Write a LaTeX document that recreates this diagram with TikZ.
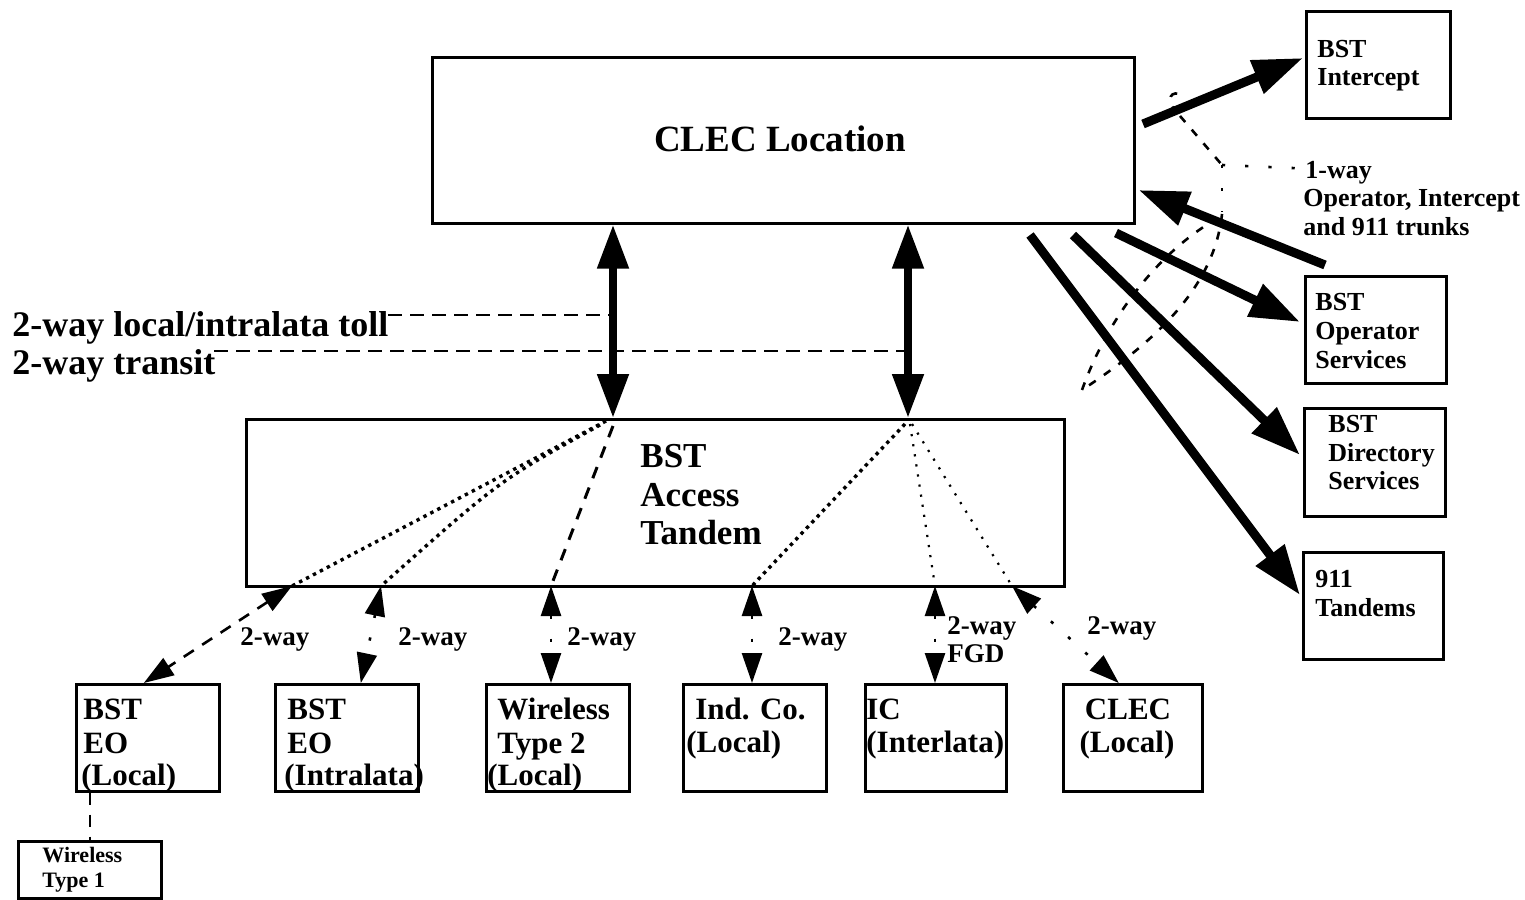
\documentclass[tikz,border=0pt]{standalone}
\usepackage{fontspec}
\setmainfont{Liberation Serif}
\usetikzlibrary{arrows.meta,calc}
\tikzset{
  box/.style={draw, line width=1.3pt, inner sep=0pt, anchor=north west},
  lbl/.style={inner sep=0pt, anchor=base west},
  fclec/.style={font=\fontsize{18.5}{20}\selectfont\bfseries},
  ftan/.style={font=\fontsize{17.5}{20}\selectfont\bfseries},
  fleft/.style={font=\fontsize{18}{20}\selectfont\bfseries},
  fbot/.style={font=\fontsize{15.5}{17}\selectfont\bfseries},
  fright/.style={font=\fontsize{13}{15}\selectfont\bfseries},
  fway/.style={font=\fontsize{13.5}{15}\selectfont\bfseries},
  fsmall/.style={font=\fontsize{11}{12}\selectfont\bfseries},
  dbl/.style={line width=4pt, {Triangle[length=22pt,width=15pt]}-{Triangle[length=22pt,width=15pt]}},
  trunk/.style={line width=4.5pt, -{Triangle[length=25pt,width=17pt]}},
  link/.style={line width=1.3pt, {Triangle[length=15pt,width=10pt]}-{Triangle[length=15pt,width=10pt]}},
  sparse/.style={dash pattern=on 1.6pt off 10pt},
  sdash/.style={dash pattern=on 6pt off 5pt},
  densedot/.style={line width=1.7pt, dash pattern=on 1.7pt off 2.2pt},
  finedot/.style={line width=1.1pt, dash pattern=on 1.1pt off 4pt},
  guide/.style={line width=1.1pt, dash pattern=on 7pt off 4pt},
  lasso/.style={line width=1.3pt, dash pattern=on 4pt off 5pt},
}
\begin{document}
\begin{tikzpicture}[x=0.5pt,y=-0.5pt]
\useasboundingbox (0,0) rectangle (1525,899);

% ---- boxes
\node[box, minimum width=351pt, minimum height=83pt]   (clec)      at (431,56) {};
\node[box, minimum width=409pt, minimum height=83.5pt] (tandem)    at (245,418) {};
\node[box, minimum width=72pt,  minimum height=53.5pt] (intercept) at (1305,10) {};
\node[box, minimum width=70.5pt,minimum height=53.5pt] (opsvc)     at (1304,275) {};
\node[box, minimum width=70.5pt,minimum height=54pt]   (dirsvc)    at (1303,407) {};
\node[box, minimum width=70pt,  minimum height=53.5pt] (tan911)    at (1302,551) {};
\node[box, minimum width=71.5pt,minimum height=53.5pt] (eo1)       at (75,683) {};
\node[box, minimum width=71.5pt,minimum height=53.5pt] (eo2)       at (274,683) {};
\node[box, minimum width=71.5pt,minimum height=53.5pt] (wt2)       at (485,683) {};
\node[box, minimum width=71.5pt,minimum height=53.5pt] (ind)       at (682,683) {};
\node[box, minimum width=70.5pt,minimum height=53.5pt] (ic)        at (864,683) {};
\node[box, minimum width=69.5pt,minimum height=53.5pt] (clecl)     at (1062,683) {};
\node[box, minimum width=71.5pt,minimum height=28.5pt] (wt1)       at (17,840) {};

% ---- texts
\node[fclec, inner sep=0pt, anchor=base] (tclec) at (780,151) {CLEC Location};
\node[ftan, lbl] (tt1) at (640,467) {BST};
\node[ftan, lbl] (tt2) at (640,506) {Access};
\node[ftan, lbl] (tt3) at (640,544) {Tandem};
\node[fleft, lbl] (left1) at (12,336) {2-way local/intralata toll};
\node[fleft, lbl] (left2) at (12,374) {2-way transit};

\node[fright, lbl] (ti1) at (1317,58) {BST};
\node[fright, lbl] (ti2) at (1317,86) {Intercept};
\node[fright, lbl] (to1) at (1315,310) {BST};
\node[fright, lbl] (to2) at (1315,339) {Operator};
\node[fright, lbl] (to3) at (1315,368) {Services};
\node[fright, lbl] (td1) at (1328,432) {BST};
\node[fright, lbl] (td2) at (1328,461) {Directory};
\node[fright, lbl] (td3) at (1328,489) {Services};
\node[fright, lbl] (tn1) at (1315,587) {911};
\node[fright, lbl] (tn2) at (1315,616) {Tandems};
\node[fright, lbl] (w1) at (1305,178) {1-way};
\node[fright, lbl] (w2) at (1303,206) {Operator, Intercept};
\node[fright, lbl] (w3) at (1303,235) {and 911 trunks};

\node[fbot, lbl] (e1a) at (83,719) {BST};
\node[fbot, lbl] (e1b) at (83,753) {EO};
\node[fbot, lbl] (e1c) at (81,785) {(Local)};
\node[fbot, lbl] (e2a) at (287,719) {BST};
\node[fbot, lbl] (e2b) at (287,753) {EO};
\node[fbot, lbl] (e2c) at (284,785) {(Intralata)};
\node[fbot, lbl] (w2a) at (497,719) {Wireless};
\node[fbot, lbl] (w2b) at (497,753) {Type 2};
\node[fbot, lbl] (w2c) at (487,785) {(Local)};
\node[fbot, lbl] (ia) at (695,719) {Ind. Co.};
\node[fbot, lbl] (ib) at (686,752) {(Local)};
\node[fbot, lbl] (ica) at (866,719) {IC};
\node[fbot, lbl] (icb) at (866,752) {(Interlata)};
\node[fbot, inner sep=0pt, anchor=base] (cla) at (1128,719) {CLEC};
\node[fbot, inner sep=0pt, anchor=base] (clb) at (1127,752) {(Local)};
\node[fsmall, lbl] (wt1a) at (42,862) {Wireless};
\node[fsmall, lbl] (wt1b) at (42,887) {Type 1};

\node[fway, lbl] (l1) at (240,645) {2-way};
\node[fway, lbl] (l2) at (398,645) {2-way};
\node[fway, lbl] (l3) at (567,645) {2-way};
\node[fway, lbl] (l4) at (778,645) {2-way};
\node[fway, lbl] (l5) at (947,634) {2-way};
\node[fway, lbl] (l5b) at (947,662) {FGD};
\node[fway, lbl] (l6) at (1087,634) {2-way};

% ---- thick two-way trunks
\coordinate (tA) at (613,418);
\coordinate (tB) at (908,418);
\draw[dbl] (tA |- clec.south) -- (tA);
\draw[dbl] (tB |- clec.south) -- (tB);

% ---- guide lines from the left labels
\coordinate (g1) at (388,315);
\coordinate (g2) at (214,351);
\draw[guide] (g1) -- (g1 -| tA);
\draw[guide] (g2) -- (g2 -| tB);

% ---- routes inside the tandem
\coordinate (a1) at (606,421);
\coordinate (a2) at (600,425);
\coordinate (a3) at (613,426);
\coordinate (b1) at (905,424);
\coordinate (b2) at (910,424);
\coordinate (b3) at (912,424);
\coordinate (p1) at (292,586);
\coordinate (p2) at (381,586);
\coordinate (p3) at (551,586);
\coordinate (p4) at (752,586);
\coordinate (p5) at (935,586);
\coordinate (p6) at (1012,586);
\draw[densedot] (a1) -- (p1);
\draw[densedot] (a2) .. controls (500,480) .. (p2);
\draw[line width=1.5pt, sdash] (a3) -- (p3);
\draw[densedot] (b1) -- (p4);
\draw[finedot] (b2) -- (p5);
\draw[finedot] (b3) -- (p6);

% ---- links to the offices
\draw[link, sdash] (p1) -- ($(eo1.north)+(-4,0)$);
\draw[link, sparse] (p2) -- ($(eo2.north)+(14,0)$);
\draw[link, sparse] (p3) -- (p3 |- wt2.north);
\draw[link, sparse] (p4) -- (p4 |- ind.north);
\draw[link, sparse] (p5) -- (p5 |- ic.north);
\draw[link, sparse] (p6) -- ($(clecl.north)+(-14,0)$);
\draw[line width=1.3pt, sdash] (wt1.north |- eo1.south) -- (wt1.north);

% ---- one-way trunks
\coordinate (r1) at (1143,124);
\coordinate (r2) at (1325,265);
\coordinate (r3) at (1116,233);
\coordinate (r4) at (1073,235);
\coordinate (r5) at (1030,235);
\draw[trunk] (r1) -- ($(intercept.north west)+(-2,48)$);
\draw[trunk] (r2) -- ($(clec.north east)+(3,134)$);
\draw[trunk] (r3) -- ($(opsvc.north west)+(-4,47)$);
\draw[trunk] (r4) -- ($(dirsvc.north west)+(-3,48)$);
\draw[trunk] (r5) -- ($(tan911.north west)+(-2,44)$);

% ---- lasso round the one-way trunks
\coordinate (j) at (1222,165);
\draw[lasso] (1177,113) .. controls (1165,100) and (1170,88) .. (1184,96);
\draw[lasso] (1180,116) -- (j);
\draw[line width=1.3pt, sparse] (j) -- (1222,212);
\draw[line width=1.3pt, sparse] (j) -- ($(w1.west)+(-8,-4)$);
\draw[lasso] (1222,214) .. controls (1214,290) and (1150,345) .. (1082,390);
\draw[lasso] (1082,390) .. controls (1105,325) and (1150,262) .. (1205,226);
\end{tikzpicture}
\end{document}
